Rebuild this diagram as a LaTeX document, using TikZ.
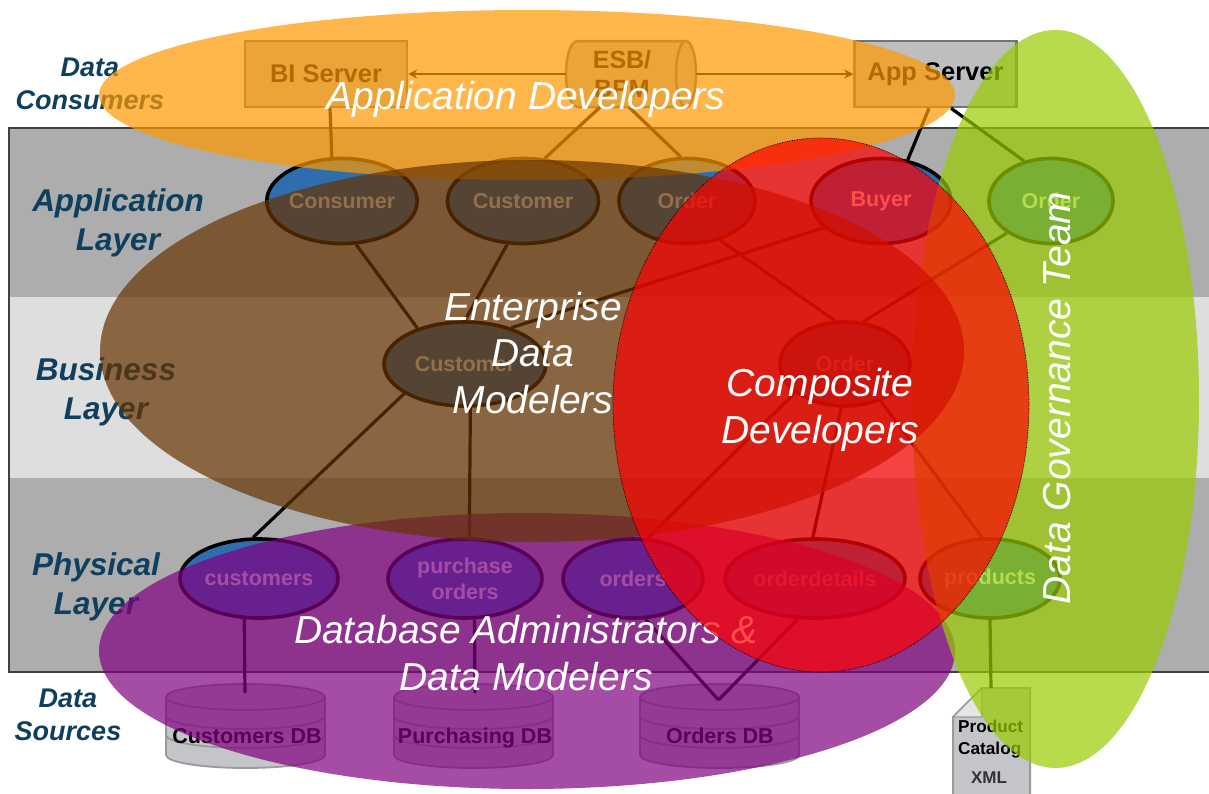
\documentclass[tikz,border=0pt]{standalone}
\usepackage{fontspec}
\setmainfont{Liberation Sans}
\usetikzlibrary{shapes.geometric,arrows.meta}
\definecolor{laygray}{HTML}{ADADAD}
\definecolor{laylight}{HTML}{DEDEDE}
\definecolor{nodeblue}{HTML}{2E6EAE}
\definecolor{labelteal}{HTML}{0F3F5F}
\definecolor{boxgray}{HTML}{BEBEBE}
\definecolor{dbgray}{HTML}{C4C5C8}
\definecolor{dbline}{HTML}{9A9A9A}
\definecolor{ovorange}{HTML}{FF9900}
\definecolor{ovbrown}{HTML}{663300}
\definecolor{ovpurple}{HTML}{800080}
\definecolor{ovgreen}{HTML}{99CC00}
\tikzset{
  x=1pt,y=-1pt,
  ent/.style={ellipse,draw=black,line width=3.6pt,fill=nodeblue,text=white,inner sep=0pt,align=center,
    font=\fontsize{21.5}{26}\selectfont\bfseries},
  conn/.style={draw=black,line width=3.2pt},
  sbox/.style={rectangle,draw=gray!90!black,line width=2.5pt,fill=boxgray,inner sep=0pt,minimum width=162pt,minimum height=66pt,
    font=\fontsize{25.5}{30}\selectfont\bfseries},
  layerlabel/.style={text=labelteal,align=center,inner sep=0pt,font=\fontsize{31.5}{39}\selectfont\bfseries\itshape},
  srclabel/.style={text=labelteal,align=center,inner sep=0pt,font=\fontsize{27}{33}\selectfont\bfseries\itshape},
  ovtext/.style={text=white,align=center,inner sep=0pt,font=\fontsize{39}{46.5}\selectfont\itshape},
  dbshape/.style={fill=dbgray,draw=dbline,line width=1.8pt},
  dbtext/.style={text=black,inner sep=0pt,anchor=base,font=\fontsize{21.5}{26}\selectfont\bfseries},
}
\newcommand{\dbcyl}[1]{%
  \begin{scope}[xshift=#1pt]
    \path[dbshape] (-79.5,697) -- (-79.5,755) arc[start angle=180,end angle=360,x radius=79.5pt,y radius=13pt] -- (79.5,697) arc[start angle=0,end angle=180,x radius=79.5pt,y radius=13pt] -- cycle;
    \draw[dbline,line width=1.8pt] (-79.5,697) arc[start angle=180,end angle=360,x radius=79.5pt,y radius=13pt];
    \draw[dbline,line width=1.8pt] (-79.5,716) arc[start angle=180,end angle=360,x radius=79.5pt,y radius=13pt];
    \draw[dbline,line width=1.8pt] (-79.5,735) arc[start angle=180,end angle=360,x radius=79.5pt,y radius=13pt];
  \end{scope}}
\begin{document}
\begin{tikzpicture}
\useasboundingbox (0,0) rectangle (1209,793);
\fill[white] (0,0) rectangle (1209,793);
% layers
\fill[laygray] (9,128) rectangle (1215,297);
\fill[laylight] (9,297) rectangle (1215,478);
\fill[laygray] (9,478) rectangle (1215,672);
\draw[black!75,line width=1.5pt] (1215,128) -- (9,128) -- (9,672) -- (1215,672);
% layer labels
\node[srclabel] (lbcons) at (90,83.5) {Data\\Consumers};
\node[layerlabel] (lbapp) at (118,223) {Application\\Layer};
\node[layerlabel] (lbbus) at (106,392) {Business\\Layer};
\node[layerlabel] (lbphy) at (96,587) {Physical\\Layer};
\node[srclabel] (lbsrc) at (68,714.5) {Data\\Sources};
% servers
\node[sbox] (bi) at (326,74) {BI Server};
\node[sbox] (app) at (935.5,74) {App Server};
\path[fill=boxgray,draw=gray!90!black,line width=2.5pt] (686,41) -- (578,41) .. controls (562,41) and (562,107) .. (578,107) -- (686,107) -- cycle;
\draw[fill=boxgray,draw=gray!90!black,line width=2.5pt] (686,74) ellipse [x radius=10pt,y radius=33pt];
\node[inner sep=0pt,align=center,minimum width=112pt,minimum height=66pt,font=\fontsize{25}{29}\selectfont\bfseries] (esb) at (622,74) {ESB/\\BPM};
% db
\dbcyl{245.5}
\dbcyl{473.5}
\dbcyl{719.5}
\node[dbtext] (cdb) at (247,743) {Customers DB};
\node[dbtext] (pdb) at (475,743) {Purchasing DB};
\node[dbtext] (odb) at (720,743) {Orders DB};
\coordinate (cdbtop) at (245,693);
\coordinate (pdbtop) at (475,693);
\coordinate (odbtop) at (718.5,700);
% document
\path[fill=dbgray,draw=dbline,line width=2pt] (982,688) -- (1030,688) -- (1030,800) -- (953,800) -- (953,717) -- cycle;
\path[fill=black!10,draw=dbline,line width=1.2pt] (982,688) -- (982,717) -- (953,717) -- cycle;
\node[anchor=west,inner sep=0pt,align=left,font=\fontsize{17.2}{22}\selectfont\bfseries] (doc) at (958,739) {Product\\Catalog};
\node[inner sep=0pt,font=\fontsize{17}{20}\selectfont\bfseries,text=black!80] (xml) at (989,778) {XML};
\coordinate (doctop) at (991,688);
% entities
\node[ent,minimum width=150pt,minimum height=85pt] (consumer) at (342,201) {Consumer};
\node[ent,minimum width=151pt,minimum height=85pt] (customer) at (523,201) {Customer};
\node[ent,minimum width=136pt,minimum height=85pt] (orderA) at (687,201) {Order};
\node[ent,minimum width=140pt,minimum height=85pt] (buyer) at (881,201) {Buyer};
\node[ent,minimum width=124pt,minimum height=85pt] (orderB) at (1051,201) {Order};
\node[ent,minimum width=162pt,minimum height=84pt] (bcust) at (465,364) {Customer};
\node[ent,minimum width=130pt,minimum height=84pt] (bord) at (845,364) {Order};
\node[ent,minimum width=158pt,minimum height=79pt] (customers) at (259,578.5) {customers};
\node[ent,minimum width=154pt,minimum height=79pt] (porders) at (465,578.5) {purchase\\orders};
\node[ent,minimum width=140pt,minimum height=79pt] (orders) at (633,578.5) {orders};
\node[ent,minimum width=180pt,minimum height=79pt] (odetails) at (815,578.5) {orderdetails};
\node[ent,minimum width=140pt,minimum height=79pt] (products) at (990,578.5) {products};
% connectors
\draw[black,line width=2pt,-{Stealth[length=9pt,width=9pt]}] (esb.west) -- (bi.east);
\draw[black,line width=2pt,-{Stealth[length=9pt,width=9pt]}] ([xshift=74pt]esb.center) -- (app.west);
\draw[conn] ([xshift=4pt]bi.south) -- (consumer.103);
\draw[conn] ([xshift=-22pt]esb.south) -- (customer.63);
\draw[conn] ([xshift=7pt]esb.south) -- (orderA.98);
\draw[conn] ([xshift=-6.5pt]app.south) -- (buyer.57.6);
\draw[conn] ([xshift=15.5pt]app.south) -- (orderB.124);
\draw[conn] (consumer.-72.4) -- (bcust.143);
\draw[conn] (customer.-110) -- (bcust.90);
\draw[conn] (orderA.-50) -- (bord.103);
\draw[conn] (buyer.-155.8) -- (bcust.38);
\draw[conn] (orderB.-144.6) -- (bord.67);
\draw[conn] (bcust.-154) -- (customers.98.6);
\draw[conn] (bcust.-83) -- (porders.84);
\draw[conn] (bord.-150) -- (orders.70);
\draw[conn] (bord.-95) -- (odetails.93);
\draw[conn] (bord.-46.6) -- (products.101);
\draw[conn] (customers.-110.8) -- (cdbtop);
\draw[conn] (porders.-77) -- (pdbtop);
\draw[conn] (orders.-73) -- (odbtop);
\draw[conn] (odetails.-113) -- (odbtop);
\draw[conn] (products.-90) -- (doctop);
% overlays
\fill[ovpurple,fill opacity=.7] (527,651) ellipse [x radius=428pt,y radius=138pt];
\node[ovtext] (tdba) at (526,653) {Database Administrators \&\\Data Modelers};
\fill[ovgreen,fill opacity=.7] (1055.5,399) ellipse [x radius=143.5pt,y radius=369pt];
\fill[ovorange,fill opacity=.7] (527,95) ellipse [x radius=428pt,y radius=85pt];
\node[ovtext] (tapp) at (526,99) {Application Developers};
\fill[ovbrown,fill opacity=.7] (532,351) ellipse [x radius=432pt,y radius=191pt];
\node[ovtext] (tent) at (533,353) {Enterprise\\Data\\Modelers};
\path[fill=red,fill opacity=.7,draw=black,line width=.7pt,densely dotted] (821,405) ellipse [x radius=208pt,y radius=267pt];
\node[ovtext] (tcomp) at (820,410) {Composite\\Developers};
\node[ovtext,rotate=90] (tgov) at (1057,398) {Data Governance Team};
\end{tikzpicture}
\end{document}
